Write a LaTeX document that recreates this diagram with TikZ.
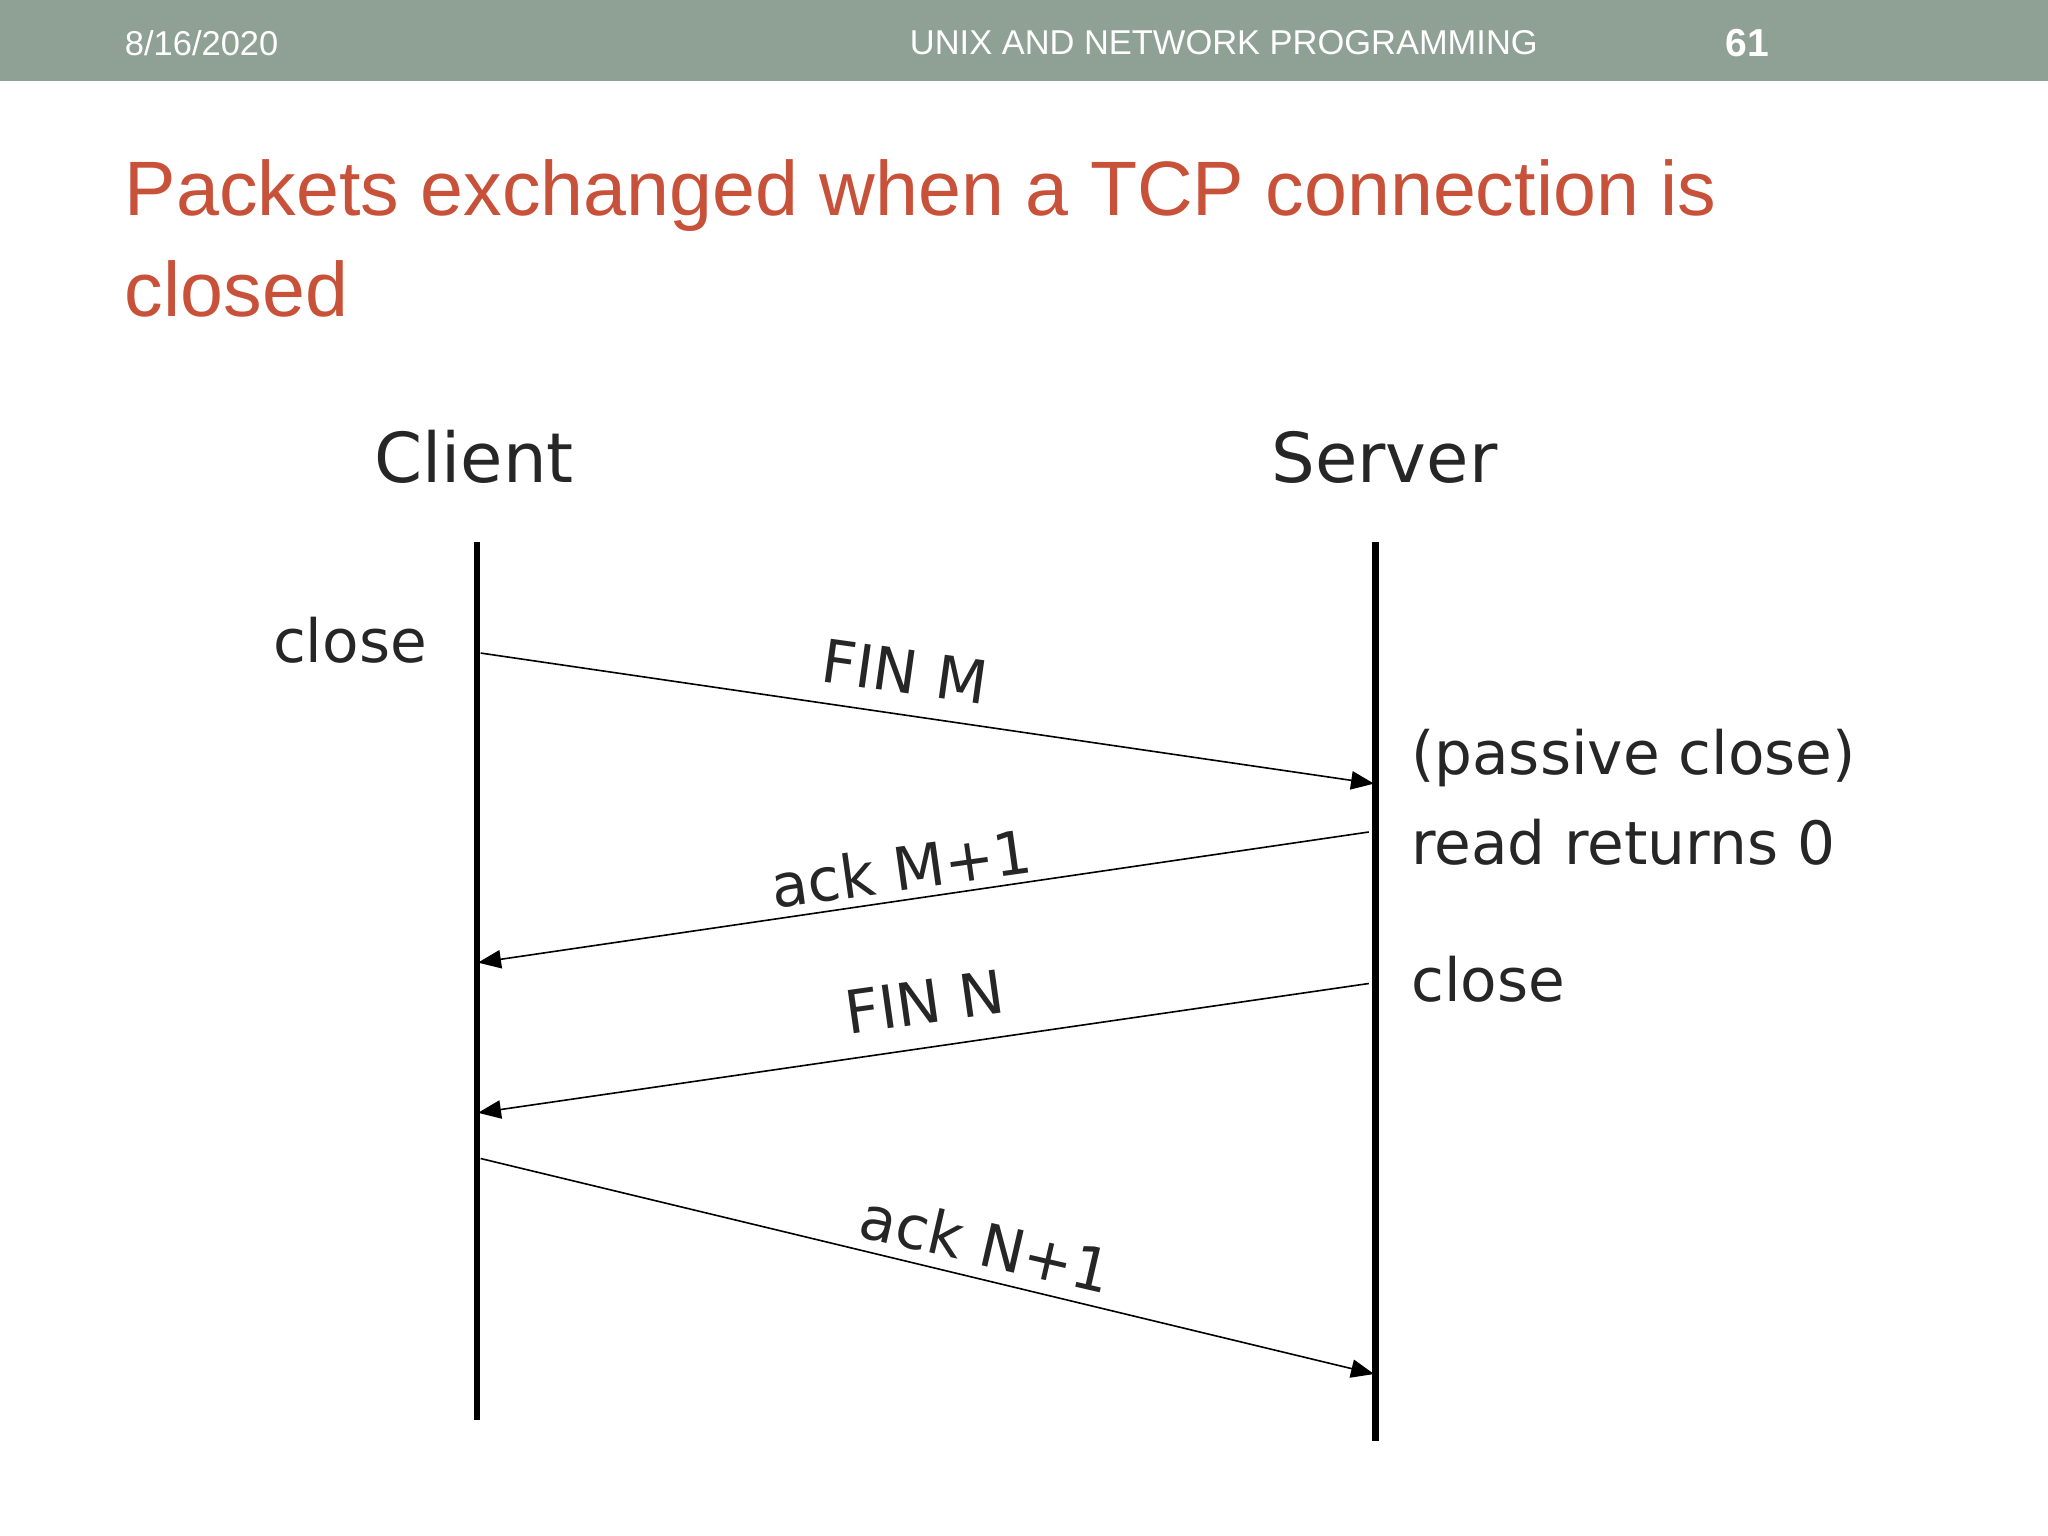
\documentclass[tikz,border=0pt]{standalone}
\usepackage{fontspec}
\setmainfont{Liberation Sans}
\newfontfamily\dia{DejaVu Sans}
\usetikzlibrary{arrows.meta}
\definecolor{band}{HTML}{8FA195}
\definecolor{titlered}{HTML}{C8513A}
\begin{document}
\begin{tikzpicture}[x=0.01cm,y=-0.01cm,
  life/.style={line width=1.4pt},
  msg/.style={line width=0.35pt,-{Triangle[length=5pt,width=4pt]}},
  lbl/.style={font=\dia\fontsize{13}{15}\selectfont,text=black!85},
  hdr/.style={font=\fontsize{7.5}{9}\selectfont,text=white}]
\useasboundingbox (0,0) rectangle (1568,1176);
\fill[band] (0,0) rectangle (1568,62);
\node[hdr,anchor=west,inner sep=0] (date) at (95,33) {8/16/2020};
\node[hdr] (course) at (937,33) {UNIX AND NETWORK PROGRAMMING};
\node[hdr,font=\bfseries\fontsize{8.5}{10}\selectfont] (pg) at (1338,33) {61};
\node[anchor=base west,text=titlered,font=\fontsize{16.8}{20}\selectfont,inner sep=0] (t1) at (95,165) {Packets exchanged when a TCP connection is};
\node[anchor=base west,text=titlered,font=\fontsize{16.8}{20}\selectfont,inner sep=0] (t2) at (95,242) {closed};
\node[lbl,font=\dia\fontsize{15}{17}\selectfont] (client) at (363,350) {Client};
\node[lbl,font=\dia\fontsize{15}{17}\selectfont] (server) at (1060,350) {Server};
\coordinate (c0) at (365,415); \coordinate (c1) at (365,1087);
\coordinate (s0) at (1053,415); \coordinate (s1) at (1053,1103);
\draw[life] (c0) -- (c1);
\draw[life] (s0) -- (s1);
\coordinate (a1) at (368,500); \coordinate (b1) at (1052,600);
\coordinate (a2) at (1048,637); \coordinate (b2) at (366,737);
\coordinate (a3) at (1048,753); \coordinate (b3) at (366,852);
\coordinate (a4) at (368,887); \coordinate (b4) at (1052,1052);
\draw[msg] (a1) -- (b1);
\draw[msg] (a2) -- (b2);
\draw[msg] (a3) -- (b3);
\draw[msg] (a4) -- (b4);
\node[lbl] (close1) at (268,490) {close};
\node[lbl,rotate=-8] (finm) at (693,514) {FIN M};
\node[lbl,anchor=west] (pc) at (1068,580) {(passive close)};
\node[lbl,anchor=west] (rr) at (1068,645) {read returns 0};
\node[lbl,rotate=8] (ackm) at (690,665) {ack M+1};
\node[lbl,anchor=west] (close2) at (1068,750) {close};
\node[lbl,rotate=8] (finn) at (708,767) {FIN N};
\node[lbl,rotate=-13] (ackn) at (755,952) {ack N+1};
\end{tikzpicture}
\end{document}
